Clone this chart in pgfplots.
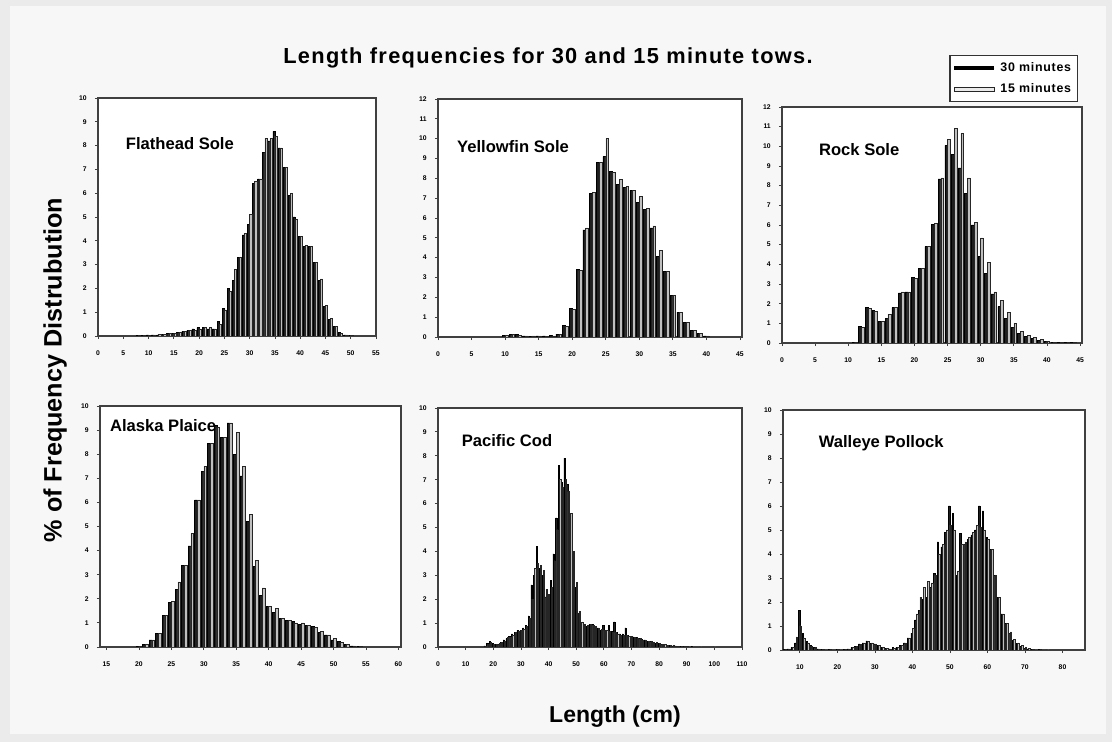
\documentclass[border=0pt]{standalone}
\usepackage{fontspec}
\setmainfont{Liberation Sans}
\newfontfamily\spacedfont[LetterSpace=6]{Liberation Sans}
\usepackage{pgfplots}
\pgfplotsset{compat=1.18}
\usepackage{pgfplotstable}

% length-frequency tables: x = length (cm), a = 30 minute tows, b = 15 minute tows
\pgfplotstableread{
x a b
8 0.02 0.02
9 0.02 0.03
10 0.05 0.04
11 0.05 0.05
12 0.05 0.06
13 0.08 0.08
14 0.1 0.1
15 0.1 0.12
16 0.15 0.15
17 0.2 0.2
18 0.25 0.25
19 0.3 0.25
20 0.35 0.3
21 0.35 0.35
22 0.3 0.35
23 0.3 0.3
24 0.6 0.5
25 1.15 1.1
26 2.0 1.9
27 2.35 2.8
28 3.3 3.3
29 4.25 4.3
30 4.7 5.1
31 6.4 6.5
32 6.6 6.6
33 7.7 8.3
34 8.2 8.3
35 8.6 8.4
36 7.9 7.9
37 7.1 7.1
38 5.9 6.0
39 5.0 4.9
40 4.2 4.2
41 3.75 3.8
42 3.75 3.75
43 3.1 3.1
44 2.35 2.4
45 1.25 1.3
46 0.7 0.75
47 0.4 0.4
48 0.15 0.1
49 0.05 0.05
50 0.02 0.02
}\flathead

\pgfplotstableread{
x a b
10 0.1 0.08
11 0.15 0.12
12 0.15 0.1
13 0.05 0.05
14 0.04 0.05
15 0.05 0.05
16 0.05 0.04
17 0.08 0.06
18 0.15 0.12
19 0.6 0.55
20 1.45 1.4
21 3.4 3.35
22 5.4 5.5
23 7.25 7.3
24 8.8 8.8
25 9.1 10.0
26 8.35 8.3
27 7.7 7.95
28 7.55 7.6
29 7.4 7.4
30 6.8 7.1
31 6.45 6.5
32 5.5 5.6
33 4.05 4.35
34 3.3 3.3
35 2.1 2.1
36 1.25 1.25
37 0.75 0.75
38 0.35 0.35
39 0.2 0.2
40 0.05 0.05
}\yellowfin

\pgfplotstableread{
x a b
11 0.05 0.05
12 0.85 0.8
13 1.8 1.75
14 1.65 1.6
15 1.1 1.1
16 1.25 1.45
17 1.8 1.8
18 2.55 2.6
19 2.6 2.6
20 3.35 3.3
21 3.8 3.8
22 4.9 4.9
23 6.05 6.1
24 8.35 8.4
25 10.05 10.35
26 9.6 10.9
27 8.9 10.65
28 7.6 8.4
29 6.0 6.15
30 4.4 5.35
31 3.55 4.1
32 2.5 2.6
33 1.85 2.15
34 1.25 1.55
35 0.8 1.0
36 0.5 0.6
37 0.35 0.4
38 0.25 0.28
39 0.15 0.18
40 0.08 0.1
41 0.05 0.05
42 0.03 0.03
43 0.02 0.02
44 0.02 0.02
}\rocksole

\pgfplotstableread{
x a b
20 0.03 0.03
21 0.1 0.1
22 0.3 0.3
23 0.55 0.55
24 1.3 1.3
25 1.85 1.9
26 2.4 2.7
27 3.4 3.4
28 4.2 4.7
29 6.1 6.1
30 7.3 7.5
31 8.45 8.45
32 9.2 9.1
33 8.7 8.7
34 9.3 9.3
35 8.0 8.9
36 7.1 7.5
37 5.2 5.5
38 3.35 3.6
39 2.15 2.45
40 1.7 1.7
41 1.45 1.6
42 1.2 1.2
43 1.1 1.1
44 1.05 1.0
45 0.95 1.0
46 0.9 0.9
47 0.85 0.8
48 0.62 0.65
49 0.5 0.5
50 0.3 0.35
51 0.22 0.2
52 0.12 0.1
53 0.05 0.05
54 0.03 0.02
}\plaice

\pgfplotstableread{
x a b
17 0.05 0.05
18 0.15 0.1
19 0.25 0.2
20 0.15 0.12
21 0.1 0.1
22 0.12 0.15
23 0.2 0.2
24 0.3 0.25
25 0.35 0.4
26 0.45 0.4
27 0.55 0.5
28 0.6 0.6
29 0.7 0.65
30 0.7 0.7
31 0.8 0.75
32 0.9 0.85
33 1.3 1.2
34 2.6 2.0
35 3.0 3.3
36 4.2 3.5
37 3.3 3.4
38 3.0 3.2
39 2.1 2.4
40 2.0 2.2
41 2.8 2.5
42 3.9 3.6
43 5.4 4.9
44 7.6 7.0
45 6.9 6.7
46 7.9 7.0
47 6.8 6.5
48 5.3 5.6
49 3.8 4.0
50 2.5 2.7
51 1.4 1.5
52 1.0 1.05
53 0.9 0.95
54 0.85 0.9
55 0.95 0.95
56 0.95 0.9
57 0.85 0.85
58 0.8 0.8
59 0.7 0.75
60 0.92 0.7
61 0.7 0.7
62 0.92 0.65
63 0.65 0.6
64 1.05 0.6
65 0.6 0.55
66 0.55 0.5
67 0.55 0.5
68 0.8 0.5
69 0.5 0.45
70 0.45 0.45
71 0.42 0.4
72 0.4 0.38
73 0.35 0.35
74 0.32 0.3
75 0.3 0.28
76 0.25 0.25
77 0.25 0.22
78 0.2 0.2
79 0.15 0.18
80 0.15 0.15
81 0.12 0.12
82 0.1 0.1
83 0.08 0.08
84 0.07 0.07
85 0.05 0.06
86 0.05 0.05
87 0.04 0.04
88 0.03 0.03
89 0.03 0.03
90 0.02 0.02
92 0.02 0.01
95 0.01 0.01
100 0.01 0.01
}\cod

\pgfplotstableread{
x a b
6 0.02 0.02
7 0.05 0.05
8 0.1 0.1
9 0.3 0.55
10 1.65 1.0
11 0.7 0.5
12 0.35 0.3
13 0.2 0.15
14 0.1 0.1
15 0.05 0.05
16 0.03 0.03
18 0.03 0.03
20 0.03 0.03
22 0.03 0.03
23 0.05 0.05
24 0.1 0.1
25 0.15 0.15
26 0.25 0.22
27 0.3 0.3
28 0.38 0.35
29 0.28 0.3
30 0.25 0.25
31 0.2 0.2
32 0.12 0.12
33 0.06 0.06
34 0.05 0.05
35 0.1 0.08
36 0.12 0.12
37 0.2 0.2
38 0.3 0.3
39 0.5 0.5
40 0.7 0.9
41 1.25 1.5
42 1.65 2.2
43 2.1 2.6
44 2.2 2.85
45 2.6 2.8
46 3.2 3.1
47 4.5 4.0
48 4.3 4.4
49 4.9 5.0
50 6.0 5.2
51 5.7 5.0
52 3.1 3.3
53 4.85 4.4
54 4.4 4.5
55 4.6 4.7
56 4.8 4.9
57 5.0 5.2
58 6.0 5.1
59 5.8 5.0
60 4.7 4.6
61 4.2 4.2
62 3.1 3.1
63 2.2 2.2
64 1.5 1.5
65 1.1 1.1
66 0.7 0.75
67 0.4 0.45
68 0.28 0.3
69 0.15 0.18
70 0.08 0.1
71 0.05 0.06
72 0.03 0.04
74 0.02 0.02
76 0.01 0.01
}\pollock

\pgfplotsset{
  fishpanel/.style={
    scale only axis,
    anchor=south west,
    ybar=0pt,
    bar width=0.42,
    axis line style={black!75, line width=0.65pt},
    tick style={black!75, line width=0.4pt},
    tick align=outside,
    major tick length=1.6pt,
    xtick pos=bottom, ytick pos=left,
    ymin=0,
    tick label style={font=\fontsize{3.4}{4}\selectfont\bfseries},
    /pgf/number format/assume math mode=true,
    xticklabel style={yshift=-2.3pt},
    yticklabel style={xshift=-0.5pt},
    axis background/.style={fill=white},
  },
  thirty/.style={fill=black!88, draw=black, line width=0.25pt},
  fifteen/.style={fill=black!25, draw=black!85, line width=0.25pt},
}
\tikzset{fishname/.style={anchor=west, font=\fontsize{8.3}{9}\selectfont\bfseries}}

\begin{document}
\begin{tikzpicture}
\path[use as bounding box] (0pt,0pt) rectangle (556pt,371pt);
\fill[black!8] (0pt,0pt) rectangle (556pt,371pt);
\fill[black!3] (5pt,4pt) rectangle (553pt,368pt);

% top row
\begin{axis}[fishpanel, at={(49pt,203pt)}, width=139pt, height=119pt,
  xmin=0, xmax=55, ymax=10, xtick={0,5,...,55}, ytick={0,1,...,10}]
  \addplot[thirty] table[x=x,y=a] {\flathead};
  \addplot[fifteen] table[x=x,y=b] {\flathead};
  \node[fishname] at (rel axis cs:0.075,0.81) {Flathead Sole};
\end{axis}

\begin{axis}[fishpanel, at={(219pt,202.5pt)}, width=152pt, height=119pt,
  xmin=0, xmax=45.3, ymax=12, xtick={0,5,...,45}, ytick={0,1,...,12}]
  \addplot[thirty] table[x=x,y=a] {\yellowfin};
  \addplot[fifteen] table[x=x,y=b] {\yellowfin};
  \node[fishname] at (rel axis cs:0.04,0.80) {Yellowfin Sole};
\end{axis}

\begin{axis}[fishpanel, at={(391pt,199.5pt)}, width=150pt, height=118pt,
  xmin=0, xmax=45.3, ymax=12, xtick={0,5,...,45}, ytick={0,1,...,12},
  legend style={at={(0.987,1.22)}, anchor=north east, draw=black!80,
    line width=0.6pt, fill=white, inner sep=1.2pt, row sep=0.5pt,
    font=\fontsize{6.2}{7}\spacedfont\bfseries},
  legend cell align=left]
  \addplot[thirty, legend image code/.code={
      \draw[black, line width=2pt] (0pt,0pt) -- (20pt,0pt);}]
    table[x=x,y=a] {\rocksole};
  \addplot[fifteen, legend image code/.code={
      \draw[black!85, fill=black!8, line width=0.5pt] (0pt,-1pt) rectangle (20pt,1pt);}]
    table[x=x,y=b] {\rocksole};
  \legend{30 minutes, 15 minutes}
  \node[fishname] at (rel axis cs:0.10,0.82) {Rock Sole};
\end{axis}

% bottom row
\begin{axis}[fishpanel, at={(50pt,47.5pt)}, width=150.5pt, height=120.5pt,
  xmin=14, xmax=60.4, ymax=10, xtick={15,20,...,60}, ytick={0,1,...,10}]
  \addplot[thirty] table[x=x,y=a] {\plaice};
  \addplot[fifteen] table[x=x,y=b] {\plaice};
  \node[fishname] at (rel axis cs:0.01,0.92) {Alaska Plaice};
\end{axis}

\begin{axis}[fishpanel, at={(219pt,47.5pt)}, width=152pt, height=119.5pt,
  xmin=0, xmax=110, ymax=10, xtick={0,10,...,110}, ytick={0,1,...,10}]
  \addplot[thirty] table[x=x,y=a] {\cod};
  \addplot[fifteen] table[x=x,y=b] {\cod};
  \node[fishname] at (rel axis cs:0.055,0.865) {Pacific Cod};
\end{axis}

\begin{axis}[fishpanel, at={(391.5pt,46pt)}, width=151pt, height=120pt,
  xmin=5.5, xmax=86, ymax=10, xtick={10,20,...,80}, ytick={0,1,...,10}]
  \addplot[thirty] table[x=x,y=a] {\pollock};
  \addplot[fifteen] table[x=x,y=b] {\pollock};
  \node[fishname] at (rel axis cs:0.095,0.86) {Walleye Pollock};
\end{axis}

% titles
\node[font=\fontsize{10.9}{12}\spacedfont\bfseries] at (274pt,342pt)
  {Length frequencies for 30 and 15 minute tows.};
\node[font=\fontsize{12.6}{14}\selectfont\bfseries, rotate=90] at (27.5pt,186pt)
  {\% of Frequency Distrubution};
\node[font=\fontsize{11.5}{13}\selectfont\bfseries] at (307.5pt,12.5pt)
  {Length (cm)};
\end{tikzpicture}
\end{document}
